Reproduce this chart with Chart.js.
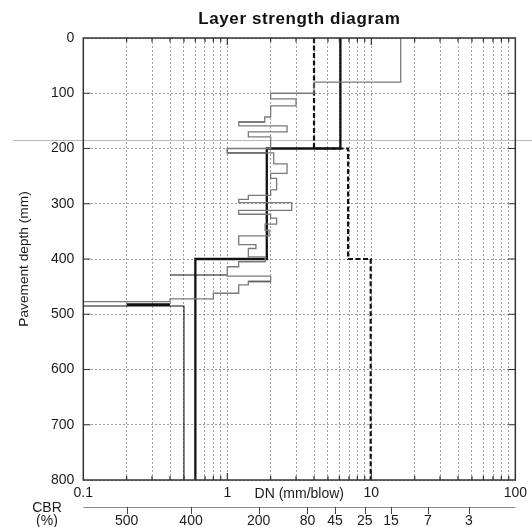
<!DOCTYPE html>
<html>
<head>
<meta charset="utf-8">
<title>Layer strength diagram</title>
<script src="https://cdn.jsdelivr.net/npm/chart.js@4.4.1/dist/chart.umd.min.js"></script>
<style>
  html, body { margin: 0; padding: 0; background: #fff; }
</style>
</head>
<body>
<canvas id="dcp" width="532" height="527"></canvas>
<script>
// DN in mm/blow, depth in mm

// layer model (solid heavy line)
var layerDepths = [0, 200, 400, 800];
var layerDN = [6.1, 1.88, 0.6];

// second layer model (dashed heavy line)
var designDepths = [0, 200, 400, 800];
var designDN = [4.0, 6.9, 9.9];

// blow-by-blow profile, test 1 (grey): interval limits and DN of each interval
var profileDepths = [0, 80, 100, 110, 123, 143, 152, 159, 170, 179, 200, 208, 228, 245, 254, 275, 285, 292,
  298, 312, 319, 326, 337, 348, 358, 374, 381, 396, 405, 414, 431, 440, 447, 462, 472, 477];
var profileDN = [16, 4.0, 2.0, 3.0, 2.0, 1.82, 1.2, 2.6, 1.4, 2.0, 1.0, 2.1, 2.6, 2.0, 2.2, 2.0, 1.4,
  1.2, 2.8, 1.2, 2.0, 2.2, 1.83, 1.95, 1.2, 1.58, 1.4, 1.83, 1.2, 1.0, 2.0, 1.4, 1.2, 0.8, 0.4];
var profileRefusalDN = 0.1;

// test 2 (thin black), pieces separated by NaN
var test2DN    = [1.82, 1.2, NaN, 1.87, 1.0, 1.0, 1.87, NaN, 1.0, 0.4, NaN, 2.0, 1.4, NaN,
  0.2, 0.4, NaN, 0.2, 0.4, NaN, 0.1, 0.5, 0.5];
var test2Depth = [152, 152, NaN, 200, 200, 208, 208, NaN, 429, 429, NaN, 441, 441, NaN,
  481, 481, NaN, 483, 483, NaN, 485, 485, 800];

// axis ticks
var depthTicks = [0, 100, 200, 300, 400, 500, 600, 700, 800];
var dnGrid = [0.1, 0.2, 0.3, 0.4, 0.5, 0.6, 0.7, 0.8, 0.9,
  1, 2, 3, 4, 5, 6, 7, 8, 9,
  10, 20, 30, 40, 50, 60, 70, 80, 90, 100];
var dnLabels = [0.1, 1, 10, 100];

// CBR scale under the DN axis
var cbrLabels = ['500', '400', '200', '80', '45', '25', '15', '7', '3'];
var cbrAtDN = [0.2, 0.56, 1.65, 3.6, 5.6, 9.0, 13.7, 24.7, 47.6];

var markerDepth = 185;

function stepPoints(depths, dn) {
  var pts = [];
  for (var i = 0; i < dn.length; i++) {
    pts.push({ x: dn[i], y: depths[i] });
    pts.push({ x: dn[i], y: depths[i + 1] });
  }
  return pts;
}

function pathPoints(dn, depth) {
  var pts = [];
  for (var i = 0; i < dn.length; i++) pts.push({ x: dn[i], y: depth[i] });
  return pts;
}

var profilePts = stepPoints(profileDepths, profileDN);
profilePts.push({ x: profileRefusalDN, y: profileDepths[profileDepths.length - 1] });

var FONT = '"Liberation Sans", Arial, Helvetica, sans-serif';
var TXT = '#1c1c1c';
Chart.defaults.font.family = FONT;

var framePlugin = {
  id: 'frame',
  beforeDatasetsDraw: function (chart) {
    var ctx = chart.ctx;
    var y = Math.round(chart.scales.y.getPixelForValue(markerDepth)) + 0.5;
    ctx.save();
    ctx.strokeStyle = '#b8b8b8';
    ctx.lineWidth = 1;
    ctx.beginPath();
    ctx.moveTo(13, y);
    ctx.lineTo(chart.width, y);
    ctx.stroke();
    ctx.restore();
  },
  afterDraw: function (chart) {
    var ctx = chart.ctx, a = chart.chartArea;
    var xs = chart.scales.x, ys = chart.scales.y;
    ctx.save();

    // border and inward tick marks
    ctx.strokeStyle = '#333';
    ctx.lineWidth = 1.5;
    ctx.strokeRect(a.left, a.top, a.right - a.left, a.bottom - a.top);
    ctx.lineWidth = 1.2;
    ctx.beginPath();
    dnGrid.forEach(function (v) {
      if (v === 0.1 || v === 100) return;
      var px = xs.getPixelForValue(v);
      var len = dnLabels.indexOf(v) >= 0 ? 7 : 4;
      ctx.moveTo(px, a.top); ctx.lineTo(px, a.top + len);
      ctx.moveTo(px, a.bottom); ctx.lineTo(px, a.bottom - len);
    });
    depthTicks.forEach(function (d) {
      if (d === 0 || d === 800) return;
      var py = ys.getPixelForValue(d);
      ctx.moveTo(a.left, py); ctx.lineTo(a.left + 7, py);
      ctx.moveTo(a.right, py); ctx.lineTo(a.right - 7, py);
    });
    ctx.stroke();

    var cx = (a.left + a.right) / 2;

    // title
    ctx.fillStyle = '#111';
    ctx.font = 'bold 17px ' + FONT;
    ctx.letterSpacing = '0.6px';
    ctx.textAlign = 'center';
    ctx.textBaseline = 'alphabetic';
    ctx.fillText('Layer strength diagram', cx, 24);
    ctx.letterSpacing = '0px';

    // DN axis name, sits in the tick label row
    ctx.fillStyle = TXT;
    ctx.font = '14px ' + FONT;
    ctx.textBaseline = 'middle';
    ctx.fillText('DN (mm/blow)', cx, a.bottom + 14);

    // CBR scale
    var cy = a.bottom + 27;
    ctx.strokeStyle = '#8c8c8c';
    ctx.lineWidth = 1;
    ctx.beginPath();
    ctx.moveTo(a.left, cy + 0.5); ctx.lineTo(a.right, cy + 0.5);
    ctx.stroke();
    ctx.strokeStyle = '#444';
    ctx.beginPath();
    cbrAtDN.forEach(function (v) {
      var px = Math.round(xs.getPixelForValue(v)) + 0.5;
      ctx.moveTo(px, cy); ctx.lineTo(px, cy + 7);
    });
    ctx.stroke();
    ctx.font = '14px ' + FONT;
    cbrLabels.forEach(function (t, i) {
      ctx.fillText(t, xs.getPixelForValue(cbrAtDN[i]), cy + 14);
    });
    ctx.fillText('CBR', 47, cy + 1);
    ctx.fillText('(%)', 47, cy + 14);
    ctx.restore();
  }
};

new Chart(document.getElementById('dcp'), {
  type: 'scatter',
  data: {
    datasets: [
      {
        label: 'Test 1',
        data: profilePts,
        showLine: true,
        borderColor: '#7a7a7a',
        borderWidth: 1.3,
        pointRadius: 0
      },
      {
        label: 'Test 2',
        data: pathPoints(test2DN, test2Depth),
        showLine: true,
        spanGaps: false,
        borderColor: '#111',
        borderWidth: 1.1,
        pointRadius: 0
      },
      {
        label: 'Layer model B',
        data: stepPoints(designDepths, designDN),
        showLine: true,
        borderColor: '#111',
        borderWidth: 2.2,
        borderDash: [5, 2.5],
        pointRadius: 0
      },
      {
        label: 'Layer model A',
        data: stepPoints(layerDepths, layerDN),
        showLine: true,
        borderColor: '#111',
        borderWidth: 2.3,
        pointRadius: 0
      }
    ]
  },
  options: {
    responsive: false,
    animation: false,
    devicePixelRatio: 1,
    layout: { padding: { left: 0, right: 13, top: 38, bottom: 0 } },
    plugins: {
      legend: { display: false },
      tooltip: { enabled: false },
      title: { display: false }
    },
    scales: {
      x: {
        type: 'logarithmic',
        min: 0.1,
        max: 100,
        afterBuildTicks: function (scale) {
          scale.ticks = dnGrid.map(function (v) { return { value: v }; });
        },
        afterFit: function (scale) { scale.height = 47; },
        ticks: {
          autoSkip: false,
          maxRotation: 0,
          padding: 5,
          color: TXT,
          font: { size: 14 },
          callback: function (v) { return dnLabels.indexOf(v) >= 0 ? String(v) : ''; }
        },
        grid: { color: '#a0a0a0', lineWidth: 1, drawTicks: false },
        border: { display: false, dash: [2, 2] }
      },
      y: {
        reverse: true,
        min: 0,
        max: 800,
        afterBuildTicks: function (scale) {
          scale.ticks = depthTicks.map(function (v) { return { value: v }; });
        },
        afterFit: function (scale) { scale.width = 83.3; },
        ticks: { padding: 9, color: TXT, font: { size: 14 } },
        grid: { color: '#a0a0a0', lineWidth: 1, drawTicks: false },
        border: { display: false, dash: [2, 2] },
        title: {
          display: true,
          text: 'Pavement depth (mm)',
          color: TXT,
          font: { size: 13.7 },
          padding: { top: 16.5, bottom: 0 }
        }
      }
    }
  },
  plugins: [framePlugin]
});
</script>
</body>
</html>
